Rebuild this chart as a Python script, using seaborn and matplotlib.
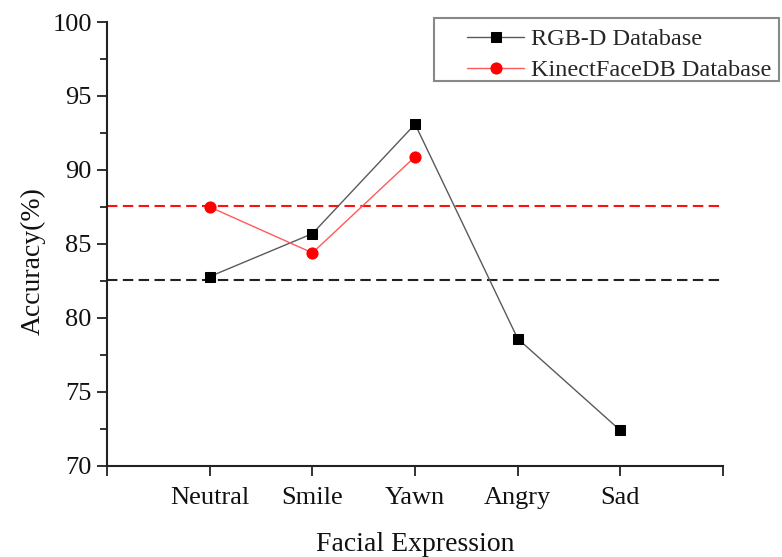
import matplotlib
matplotlib.use("Agg")
import matplotlib.pyplot as plt
import seaborn as sns
import pandas as pd
from matplotlib.ticker import MultipleLocator
from matplotlib.patches import Rectangle

categories = ["Neutral", "Smile", "Yawn", "Angry", "Sad"]
rgbd_values = [82.8, 85.7, 93.1, 78.6, 72.4]
kinect_categories = ["Neutral", "Smile", "Yawn"]
kinect_values = [87.5, 84.4, 90.9]
rgbd_mean = 82.6
kinect_mean = 87.55

sns.set_theme(style="white")
plt.rcParams['font.family'] = ['Liberation Serif', 'DejaVu Serif']

W, H = 782, 557
fig = plt.figure(figsize=(W / 100, H / 100), dpi=100)
ax = fig.add_axes([0.137, 0.1634, 0.7876, 0.7971])

df_r = pd.DataFrame({"x": [categories.index(c) for c in categories], "y": rgbd_values})
df_k = pd.DataFrame({"x": [categories.index(c) for c in kinect_categories], "y": kinect_values})

ax.axhline(kinect_mean, color="#ff1010", lw=1.5, ls=(0, (5, 2.6)), zorder=1)
ax.axhline(rgbd_mean, color="#222222", lw=1.5, ls=(0, (5, 2.6)), zorder=1)

sns.lineplot(data=df_r, x="x", y="y", ax=ax, color="#5a5a5a", lw=1.0,
             marker="s", markersize=7, markerfacecolor="black", markeredgecolor="black",
             label="RGB-D Database", zorder=3)
sns.lineplot(data=df_k, x="x", y="y", ax=ax, color="#ff5a5a", lw=1.0,
             marker="o", markersize=8, markerfacecolor="red", markeredgecolor="red",
             label="KinectFaceDB Database", zorder=3)

ax.set_xlim(-1, 5)
ax.set_ylim(70, 100)
ax.set_xticks(range(-1, 6))
ax.set_xticklabels([""] + categories + [""])
ax.yaxis.set_major_locator(MultipleLocator(5))
ax.yaxis.set_minor_locator(MultipleLocator(2.5))

for s in ["top", "right"]:
    ax.spines[s].set_visible(False)
for s in ["left", "bottom"]:
    ax.spines[s].set_color("#222222")
    ax.spines[s].set_linewidth(1.5)

ax.tick_params(axis="both", which="major", direction="out", length=7, width=1.3,
               colors="#222222", labelsize=19, labelcolor="#111111",
               bottom=True, left=True)
ax.tick_params(axis="y", which="minor", direction="out", length=5, width=1.3,
               colors="#222222", left=True)
ax.tick_params(axis="x", which="major", pad=8)
ax.tick_params(axis="y", which="major", pad=4)

ax.set_xlabel("Facial Expression", fontsize=20, color="#111111", labelpad=17)
ax.set_ylabel("Accuracy(%)", fontsize=20, color="#111111")
ax.yaxis.set_label_coords(-0.099, 0.462)

leg = ax.legend(loc="upper left", bbox_to_anchor=(467 / W, 1 - 28 / H), bbox_transform=fig.transFigure,
                fontsize=17.5, frameon=False,
                handlelength=2.35, borderpad=0.0, labelspacing=0.38, handletextpad=0.3,
                borderaxespad=0)
fig.patches.append(Rectangle((434 / W, 1 - 81 / H), (779 - 434) / W, (81 - 18) / H,
                             transform=fig.transFigure, fill=False,
                             edgecolor="#888888", lw=1.5, zorder=5))

fig.savefig("out.png", dpi=100, facecolor="white")
